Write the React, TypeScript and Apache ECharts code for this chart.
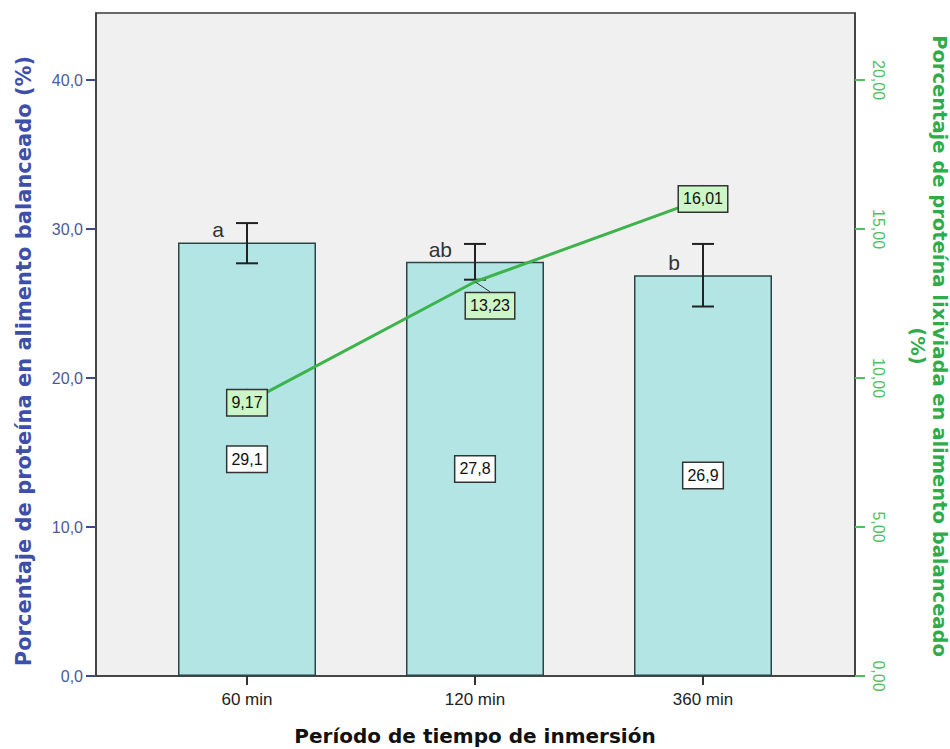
import React, { useEffect, useRef } from "react";
import * as echarts from "echarts";

// Immersion periods and measured values
const categories = ["60 min", "120 min", "360 min"];
const proteinMeans = [29.1, 27.8, 26.9];
const errorLow = [27.7, 26.6, 24.8];
const errorHigh = [30.4, 29.0, 29.0];
const groupLetters = ["a", "ab", "b"];
const leachedMeans = [9.17, 13.23, 16.01];
const leftTicks = [0, 10, 20, 30, 40];
const rightTicks = [0, 5, 10, 15, 20];

const SANS = "'Liberation Sans', Arial, sans-serif";
const BOLD = "'DejaVu Sans', Verdana, sans-serif";
const comma = (v: number, d: number) => v.toFixed(d).replace(".", ",");

export default function App() {
  const ref = useRef<HTMLDivElement>(null);

  useEffect(() => {
    if (!ref.current) return;
    const chart = echarts.init(ref.current, null, { renderer: "svg" });

    const option: any = {
      animation: false,
      backgroundColor: "#ffffff",
      textStyle: { fontFamily: SANS },
      grid: {
        left: 96,
        right: 95,
        top: 13,
        bottom: 73,
        show: true,
        backgroundColor: "#f0f0f0",
        borderColor: "#3a3a3a",
        borderWidth: 1.5,
      },
      xAxis: {
        type: "value",
        min: -0.6623,
        max: 2.6667,
        splitLine: { show: false },
        axisLine: { show: true, onZero: false, lineStyle: { color: "#3a3a3a", width: 1.5 } },
        axisTick: { show: true, customValues: [0, 1, 2], length: 9, lineStyle: { color: "#333", width: 2 } },
        axisLabel: {
          customValues: [0, 1, 2],
          formatter: (v: number) => categories[Math.round(v)] ?? "",
          fontSize: 17,
          color: "#222",
          margin: 15,
        },
      },
      yAxis: [
        {
          type: "value",
          position: "left",
          min: 0,
          max: 44.5,
          splitLine: { show: false },
          axisLine: { show: true, onZero: false, lineStyle: { color: "#3a3a3a", width: 1.5 } },
          axisTick: { show: true, customValues: leftTicks, length: 10, lineStyle: { color: "#3d4a8a", width: 2 } },
          axisLabel: {
            customValues: leftTicks,
            formatter: (v: number) => comma(v, 1),
            fontSize: 16,
            color: "#4b5a9b",
            margin: 13,
          },
        },
        {
          type: "value",
          position: "right",
          min: 0,
          max: 22.25,
          splitLine: { show: false },
          axisLine: { show: true, onZero: false, lineStyle: { color: "#3a3a3a", width: 1.5 } },
          axisTick: { show: true, customValues: rightTicks, length: 10, lineStyle: { color: "#4fbf5f", width: 2 } },
          axisLabel: {
            customValues: rightTicks,
            formatter: (v: number) => comma(v, 2),
            fontSize: 16,
            color: "#4fbf5f",
            rotate: -90,
            margin: 15,
          },
        },
      ],
      series: [
        {
          type: "bar",
          xAxisIndex: 0,
          yAxisIndex: 0,
          barWidth: 138,
          data: proteinMeans.map((v, i) => [i, v]),
          itemStyle: { color: "#b3e5e5", borderColor: "#2a4545", borderWidth: 1.5 },
          label: {
            show: true,
            position: "inside",
            formatter: (p: any) => comma(p.value[1], 1),
            fontSize: 16,
            color: "#111",
            backgroundColor: "#ffffff",
            borderColor: "#333",
            borderWidth: 1.5,
            padding: [5, 4, 4, 4],
          },
          z: 2,
        },
        {
          type: "custom",
          xAxisIndex: 0,
          yAxisIndex: 0,
          data: categories.map((_, i) => [i, errorLow[i], errorHigh[i], proteinMeans[i]]),
          encode: { x: 0, y: [1, 2] },
          renderItem: (params: any, api: any) => {
            const i = api.value(0);
            const hi = api.coord([i, api.value(2)]);
            const lo = api.coord([i, api.value(1)]);
            const top = api.coord([i, api.value(3)]);
            const half = 11;
            const stroke = { stroke: "#222", lineWidth: 2 };
            return {
              type: "group",
              children: [
                { type: "line", shape: { x1: hi[0], y1: hi[1], x2: lo[0], y2: lo[1] }, style: stroke },
                { type: "line", shape: { x1: hi[0] - half, y1: hi[1], x2: hi[0] + half, y2: hi[1] }, style: stroke },
                { type: "line", shape: { x1: lo[0] - half, y1: lo[1], x2: lo[0] + half, y2: lo[1] }, style: stroke },
                {
                  type: "text",
                  x: top[0] - 23,
                  y: top[1] - 2,
                  style: {
                    text: groupLetters[params.dataIndex],
                    align: "right",
                    verticalAlign: "bottom",
                    fontSize: 21,
                    fontFamily: SANS,
                    fill: "#333",
                  },
                },
              ],
            };
          },
          z: 3,
        },
        {
          type: "line",
          xAxisIndex: 0,
          yAxisIndex: 1,
          data: leachedMeans.map((v, i) => [i, v]),
          symbol: "circle",
          symbolSize: 1,
          itemStyle: { color: "#3cb44b" },
          lineStyle: { color: "#3cb44b", width: 3 },
          label: {
            show: true,
            position: "inside",
            formatter: (p: any) => comma(p.value[1], 2),
            fontSize: 16,
            color: "#111",
            backgroundColor: "#ccf5c8",
            borderColor: "#333",
            borderWidth: 1.5,
            padding: [5, 4, 4, 4],
          },
          labelLayout: (p: any) => (p.dataIndex === 1 ? { dx: 15, dy: 24 } : {}),
          labelLine: { show: true, length2: 0, lineStyle: { color: "#333", width: 1 } },
          z: 4,
        },
      ],
      graphic: [
        {
          type: "text",
          x: 24,
          y: 361,
          rotation: Math.PI / 2,
          style: {
            text: "Porcentaje de proteína en alimento balanceado (%)",
            align: "center",
            verticalAlign: "middle",
            fontSize: 21,
            fontWeight: "bold",
            fontFamily: BOLD,
            fill: "#3d4faa",
          },
        },
        {
          type: "text",
          x: 928,
          y: 346,
          rotation: -Math.PI / 2,
          style: {
            text: "Porcentaje de proteína lixiviada en alimento balanceado\n(%)",
            align: "center",
            verticalAlign: "middle",
            lineHeight: 22,
            fontSize: 19.5,
            fontWeight: "bold",
            fontFamily: BOLD,
            fill: "#2eac4a",
          },
        },
        {
          type: "text",
          x: 475,
          y: 736,
          style: {
            text: "Período de tiempo de inmersión",
            align: "center",
            verticalAlign: "middle",
            fontSize: 20,
            fontWeight: "bold",
            fontFamily: BOLD,
            fill: "#111",
          },
        },
      ],
    };

    chart.setOption(option);
    return () => chart.dispose();
  }, []);

  return (
    <div
      ref={ref}
      style={{ position: "fixed", left: 0, top: 0, width: 950, height: 749 }}
    />
  );
}
